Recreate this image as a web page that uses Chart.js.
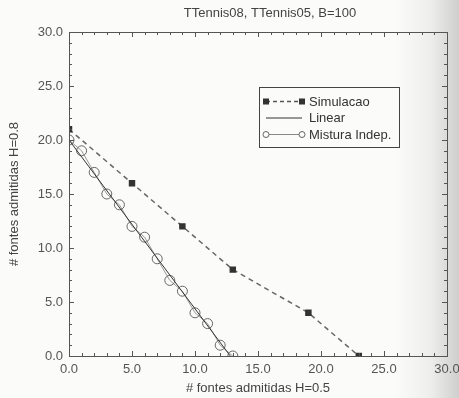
<!DOCTYPE html>
<html>
<head>
<meta charset="utf-8">
<script src="https://cdn.jsdelivr.net/npm/chart.js@4.4.1/dist/chart.umd.min.js"></script>
<style>
    html, body {
        margin: 0;
        padding: 0;
    }
    body {
        width: 459px;
        height: 398px;
        background: linear-gradient(to right, #fbfbf9 0px, #fbfbf9 395px, #eeeeec 430px, #cfcfcd 459px);
        overflow: hidden;
    }
    canvas {
        display: block;
    }
</style>
</head>
<body>
<canvas id="chart" width="459" height="398"></canvas>
<script>
    const simX = [0, 5, 9, 13, 19, 23];
    const simY = [21, 16, 12, 8, 4, 0];

    const linearX = [0, 12.8];
    const linearY = [20, 0];

    const misturaX = [0, 1, 2, 3, 4, 5, 6, 7, 8, 9, 10, 11, 12, 13];
    const misturaY = [20, 19, 17, 15, 14, 12, 11, 9, 7, 6, 4, 3, 1, 0];

    const axisTicks = [0, 5, 10, 15, 20, 25, 30];

    const chartTitle = 'TTennis08, TTennis05, B=100';
    const xTitle = '# fontes admitidas H=0.5';
    const yTitle = '# fontes admitidas H=0.8';

    const legendItems = [
        { label: 'Simulacao', kind: 'sim' },
        { label: 'Linear', kind: 'lin' },
        { label: 'Mistura Indep.', kind: 'mix' },
    ];

    const FONT = '"Liberation Sans", Arial, Helvetica, sans-serif';

    function toPoints(xs, ys) {
        return xs.map((x, i) => ({ x: x, y: ys[i] }));
    }

    // inner ticks, frame, title and boxed legend
    const framePlugin = {
        id: 'frame',
        afterDraw(chart) {
            const ctx = chart.ctx;
            const area = chart.chartArea;
            const xs = chart.scales.x;
            const ys = chart.scales.y;

            ctx.save();
            ctx.strokeStyle = '#555';
            ctx.lineWidth = 1;
            ctx.strokeRect(Math.round(area.left) + 0.5, Math.round(area.top) + 0.5,
                Math.round(area.right - area.left), Math.round(area.bottom - area.top));

            ctx.beginPath();
            for (let v = 0; v <= 30; v++) {
                const len = v % 5 === 0 ? 5 : 3;
                const px = Math.round(xs.getPixelForValue(v)) + 0.5;
                ctx.moveTo(px, area.bottom);
                ctx.lineTo(px, area.bottom - len);
                ctx.moveTo(px, area.top);
                ctx.lineTo(px, area.top + len);
                const py = Math.round(ys.getPixelForValue(v)) + 0.5;
                ctx.moveTo(area.left, py);
                ctx.lineTo(area.left + len, py);
                ctx.moveTo(area.right, py);
                ctx.lineTo(area.right - len, py);
            }
            ctx.stroke();

            // title
            ctx.fillStyle = '#444';
            ctx.font = '13px ' + FONT;
            ctx.textAlign = 'center';
            ctx.textBaseline = 'middle';
            ctx.fillText(chartTitle, 270, 13);

            // legend box
            const bx = 259;
            const by = 87;
            const bw = 140;
            const bh = 60;
            ctx.fillStyle = '#fbfbf9';
            ctx.fillRect(bx, by, bw, bh);
            ctx.strokeStyle = '#444';
            ctx.strokeRect(bx + 0.5, by + 0.5, bw, bh);

            ctx.font = '13px ' + FONT;
            ctx.textAlign = 'left';
            legendItems.forEach((item, i) => {
                const y = 101.5 + i * 16.5;
                const x0 = 266;
                const x1 = 302;
                ctx.beginPath();
                if (item.kind === 'sim') {
                    ctx.setLineDash([4, 3]);
                    ctx.strokeStyle = '#555';
                    ctx.lineWidth = 1.5;
                } else if (item.kind === 'lin') {
                    ctx.setLineDash([]);
                    ctx.strokeStyle = '#333';
                    ctx.lineWidth = 1;
                } else {
                    ctx.setLineDash([]);
                    ctx.strokeStyle = '#888';
                    ctx.lineWidth = 1;
                }
                ctx.moveTo(x0, y);
                ctx.lineTo(x1, y);
                ctx.stroke();
                ctx.setLineDash([]);
                if (item.kind === 'sim') {
                    ctx.fillStyle = '#333';
                    ctx.fillRect(x0 - 3, y - 3, 6, 6);
                    ctx.fillRect(x1 - 3, y - 3, 6, 6);
                } else if (item.kind === 'mix') {
                    ctx.strokeStyle = '#666';
                    ctx.fillStyle = '#fbfbf9';
                    [x0, x1].forEach((cx) => {
                        ctx.beginPath();
                        ctx.arc(cx, y, 3, 0, Math.PI * 2);
                        ctx.fill();
                        ctx.stroke();
                    });
                }
                ctx.fillStyle = '#333';
                ctx.fillText(item.label, 309, y + 0.5);
            });
            ctx.restore();
        },
    };

    const tickFont = { family: FONT, size: 13 };

    new Chart(document.getElementById('chart').getContext('2d'), {
        type: 'scatter',
        data: {
            datasets: [
                {
                    label: 'Linear',
                    data: toPoints(linearX, linearY),
                    showLine: true,
                    borderColor: '#333',
                    borderWidth: 1,
                    pointRadius: 0,
                },
                {
                    label: 'Mistura Indep.',
                    data: toPoints(misturaX, misturaY),
                    showLine: true,
                    borderColor: '#999',
                    borderWidth: 1,
                    pointStyle: 'circle',
                    pointRadius: 5,
                    pointBorderColor: '#666',
                    pointBorderWidth: 1,
                    pointBackgroundColor: 'rgba(0,0,0,0)',
                },
                {
                    label: 'Simulacao',
                    data: toPoints(simX, simY),
                    showLine: true,
                    borderColor: '#666',
                    borderWidth: 1.5,
                    borderDash: [5, 4],
                    pointStyle: 'rect',
                    pointRadius: 3.5,
                    pointBackgroundColor: '#333',
                    pointBorderColor: '#333',
                },
            ],
        },
        options: {
            responsive: false,
            animation: false,
            layout: {
                padding: { top: 32, right: 12, left: 0, bottom: 0 },
            },
            plugins: {
                legend: { display: false },
                title: { display: false },
                tooltip: { enabled: false },
            },
            scales: {
                x: {
                    type: 'linear',
                    min: 0,
                    max: 30,
                    afterBuildTicks(scale) {
                        scale.ticks = axisTicks.map((v) => ({ value: v }));
                    },
                    afterFit(scale) {
                        scale.height = 42;
                        scale.paddingLeft = 0;
                        scale.paddingRight = 0;
                    },
                    grid: { display: false, drawTicks: false },
                    border: { display: false },
                    ticks: {
                        padding: 6,
                        color: '#555',
                        font: tickFont,
                        maxRotation: 0,
                        autoSkip: false,
                        callback: (v) => Number(v).toFixed(1),
                    },
                    title: {
                        display: true,
                        text: xTitle,
                        color: '#444',
                        font: { family: FONT, size: 13 },
                        padding: { top: 0, bottom: 2 },
                    },
                },
                y: {
                    type: 'linear',
                    min: 0,
                    max: 30,
                    afterBuildTicks(scale) {
                        scale.ticks = axisTicks.map((v) => ({ value: v }));
                    },
                    afterFit(scale) {
                        scale.width = 69;
                        scale.paddingTop = 0;
                        scale.paddingBottom = 0;
                    },
                    grid: { display: false, drawTicks: false },
                    border: { display: false },
                    ticks: {
                        padding: 6,
                        color: '#555',
                        font: tickFont,
                        autoSkip: false,
                        callback: (v) => Number(v).toFixed(1),
                    },
                    title: {
                        display: true,
                        text: yTitle,
                        color: '#444',
                        font: { family: FONT, size: 13 },
                        padding: { top: 7, bottom: 0 },
                    },
                },
            },
        },
        plugins: [framePlugin],
    });
</script>
</body>
</html>
